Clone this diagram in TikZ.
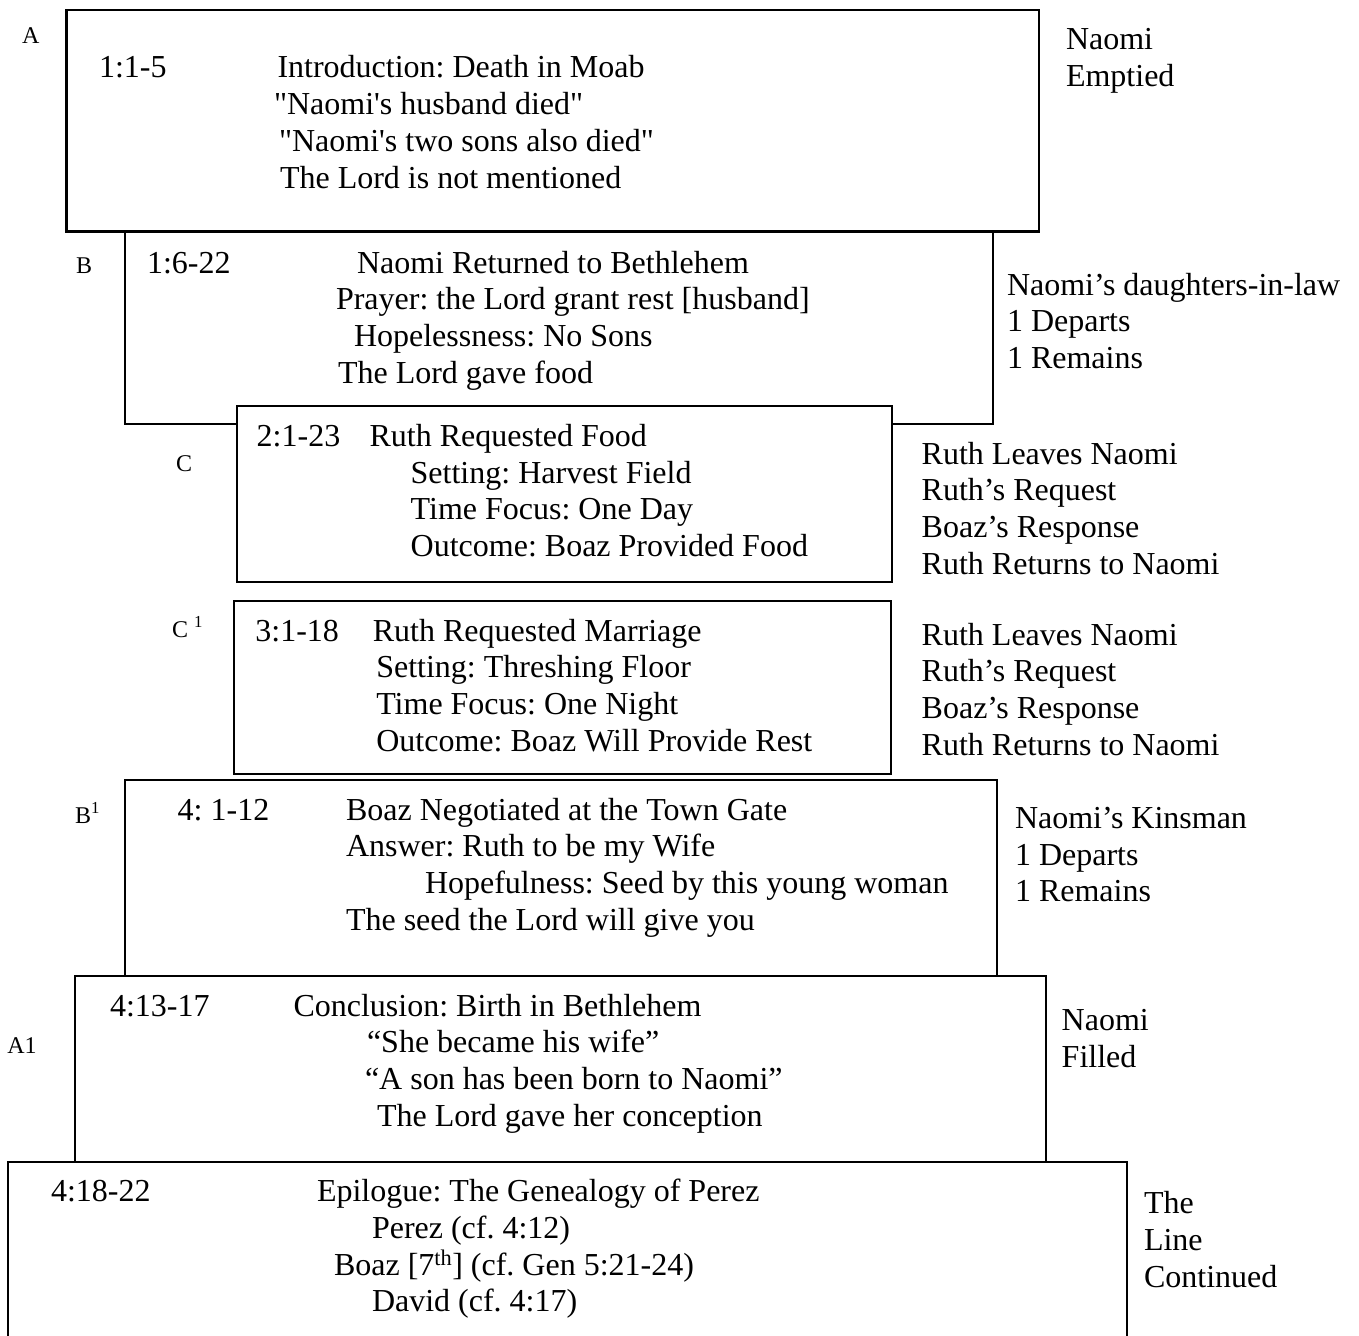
\documentclass[tikz,border=0pt]{standalone}
\usepackage{fontspec}
\setmainfont{Liberation Serif}[Ligatures=TeXOff]
\frenchspacing
\begin{document}
\frenchspacing
\begin{tikzpicture}[x=1pt,y=-1pt,
  txt/.style={anchor=base west,inner sep=0pt,outer sep=0pt,font=\fontsize{32}{36}\selectfont\frenchspacing},
  lbl/.style={anchor=base west,inner sep=0pt,outer sep=0pt,font=\fontsize{24}{28}\selectfont},
  box/.style={draw=black,line width=2pt,fill=white,rectangle,anchor=north west,inner sep=0pt,outer sep=0pt},
  heavybox/.style={box,line width=2.8pt}]
\useasboundingbox (0,0) rectangle (1359,1335);
\begin{scope}
\clip (0,0) rectangle (1359,1335);
% boxes
\node[box,minimum width=868pt,minimum height=192pt] (boxB) at (125,232) {};
\node[heavybox,minimum width=972.5pt,minimum height=221.5pt] (boxA) at (66.5,10) {};
\node[box,minimum width=655pt,minimum height=176pt] (boxC) at (237,406) {};
\node[box,minimum width=657pt,minimum height=173pt] (boxCC) at (234,601) {};
\node[box,minimum width=872pt,minimum height=196pt] (boxBB) at (125,780) {};
\node[box,minimum width=970.5pt,minimum height=186pt] (boxAA) at (75,976) {};
\node[heavybox,minimum width=1119pt,minimum height=190pt] (boxE) at (8,1162) {};
\end{scope}
% A
\node[lbl] (labA) at (22,44) {A};
\node[txt] (a0) at (99,78) {1:1-5};
\node[txt] (a1) at (277.5,78) {Introduction: Death in Moab};
\node[txt] (a2) at (274,114.7) {"Naomi's husband died"};
\node[txt] (a3) at (279,151.4) {"Naomi's two sons also died"};
\node[txt] (a4) at (280,188) {The Lord is not mentioned};
\node[txt] (ar1) at (1066,50) {Naomi};
\node[txt] (ar2) at (1066,86.7) {Emptied};
% B
\node[lbl] (labB) at (76,273) {B};
\node[txt] (b0) at (147,273) {1:6-22};
\node[txt] (b1) at (357,273) {Naomi Returned to Bethlehem};
\node[txt] (b2) at (336,309.7) {Prayer: the Lord grant rest [husband]};
\node[txt] (b3) at (354,346.4) {Hopelessness: No Sons};
\node[txt] (b4) at (338,383) {The Lord gave food};
\node[txt] (br1) at (1007,295) {Naomi’s daughters-in-law};
\node[txt] (br2) at (1007,331.7) {1 Departs};
\node[txt] (br3) at (1007,368.4) {1 Remains};
% C
\node[lbl] (labC) at (176,471) {C};
\node[txt] (c0) at (256.7,446) {2:1-23};
\node[txt] (c1) at (369.6,446) {Ruth Requested Food};
\node[txt] (c2) at (410.7,483) {Setting: Harvest Field};
\node[txt] (c3) at (410.7,519.7) {Time Focus: One Day};
\node[txt] (c4) at (410.7,556.4) {Outcome: Boaz Provided Food};
\node[txt] (cr1) at (921.7,464) {Ruth Leaves Naomi};
\node[txt] (cr2) at (921.7,500.7) {Ruth’s Request};
\node[txt] (cr3) at (921.7,537.4) {Boaz’s Response};
\node[txt] (cr4) at (921.7,574) {Ruth Returns to Naomi};
% C1
\node[lbl] (labCC) at (172,637) {C \textsuperscript{1}};
\node[txt] (d0) at (255.4,641) {3:1-18};
\node[txt] (d1) at (372.8,641) {Ruth Requested Marriage};
\node[txt] (d2) at (376.3,677.7) {Setting: Threshing Floor};
\node[txt] (d3) at (376.3,714.4) {Time Focus: One Night};
\node[txt] (d4) at (376.3,751) {Outcome: Boaz Will Provide Rest};
\node[txt] (dr1) at (921.7,645) {Ruth Leaves Naomi};
\node[txt] (dr2) at (921.7,681.7) {Ruth’s Request};
\node[txt] (dr3) at (921.7,718.3) {Boaz’s Response};
\node[txt] (dr4) at (921.7,755) {Ruth Returns to Naomi};
% B1
\node[lbl] (labBB) at (75,823) {B\textsuperscript{1}};
\node[txt] (e0) at (177.7,820) {4: 1-12};
\node[txt] (e1) at (346,820) {Boaz Negotiated at the Town Gate};
\node[txt] (e2) at (346,856.7) {Answer: Ruth to be my Wife};
\node[txt] (e3) at (425,893.4) {Hopefulness: Seed by this young woman};
\node[txt] (e4) at (346,930) {The seed the Lord will give you};
\node[txt] (er1) at (1015,828.3) {Naomi’s Kinsman};
\node[txt] (er2) at (1015,865) {1 Departs};
\node[txt] (er3) at (1015,901.7) {1 Remains};
% A1
\node[lbl] (labAA) at (7.3,1053) {A1};
\node[txt] (f0) at (110,1016) {4:13-17};
\node[txt] (f1) at (293.5,1016) {Conclusion: Birth in Bethlehem};
\node[txt] (f2) at (367,1052.7) {“She became his wife”};
\node[txt] (f3) at (365,1089.4) {“A son has been born to Naomi”};
\node[txt] (f4) at (377,1126) {The Lord gave her conception};
\node[txt] (fr1) at (1061.7,1030) {Naomi};
\node[txt] (fr2) at (1061.7,1067) {Filled};
% Epilogue
\node[txt] (g0) at (51,1201.7) {4:18-22};
\node[txt] (g1) at (317,1201.7) {Epilogue: The Genealogy of Perez};
\node[txt] (g2) at (372,1238.4) {Perez (cf. 4:12)};
\node[txt] (g3) at (334,1275) {Boaz [7\textsuperscript{th}] (cf. Gen 5:21-24)};
\node[txt] (g4) at (372,1311.7) {David (cf. 4:17)};
\node[txt] (gr1) at (1144,1213) {The};
\node[txt] (gr2) at (1144,1250) {Line};
\node[txt] (gr3) at (1144,1287) {Continued};
\end{tikzpicture}
\end{document}
